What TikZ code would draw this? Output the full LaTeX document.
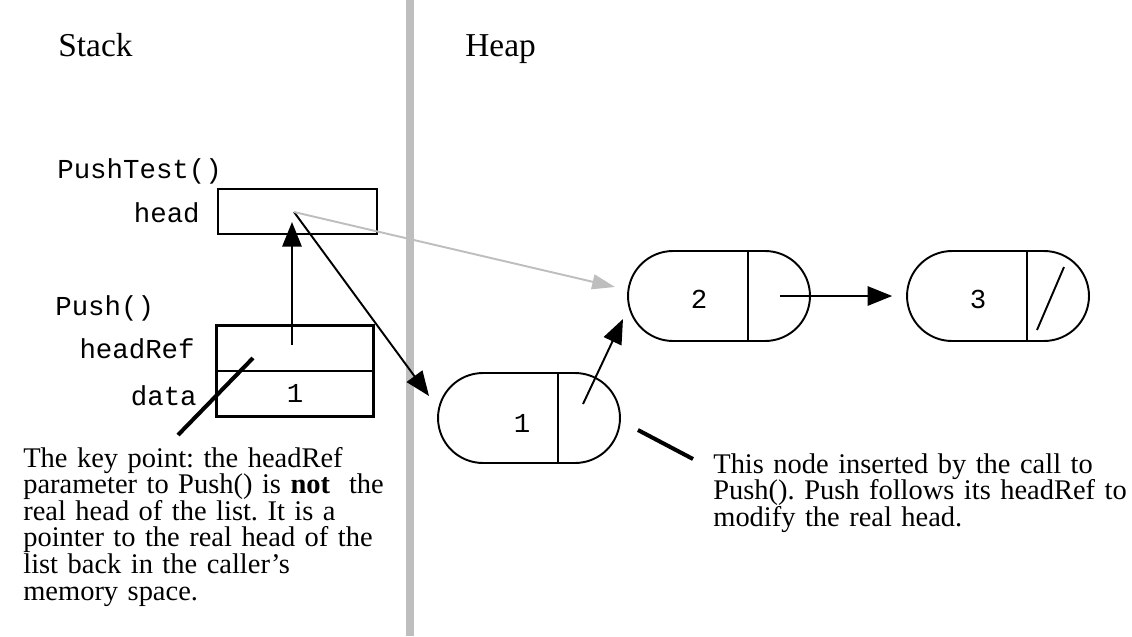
\documentclass[tikz,border=0pt]{standalone}
\usepackage{fontspec}
\setmainfont{Liberation Serif}
\setmonofont{Liberation Mono}
\usetikzlibrary{arrows.meta,shapes.misc,calc}

\definecolor{divgray}{RGB}{190,190,190}

\tikzset{
  codetext/.style={font=\ttfamily\fontsize{15.6}{18}\selectfont, inner sep=0pt},
  notetext/.style={font=\fontsize{16.2}{15.1}\selectfont\frenchspacing, align=left, inner sep=0pt},
  areatitle/.style={font=\fontsize{19}{22}\selectfont, inner sep=0pt},
  framebox/.style={draw, line width=1.1pt, minimum width=3.12cm, minimum height=0.9cm, inner sep=0pt},
  listcell/.style={draw, rounded rectangle, line width=1.1pt, minimum width=3.64cm, minimum height=1.8cm, inner sep=0pt},
  ptr/.style={-{Triangle[length=14pt,width=11pt]}, line width=1.1pt},
  leader/.style={line width=2.3pt},
}

\begin{document}
\begin{tikzpicture}[x=0.02cm, y=-0.02cm]
    \useasboundingbox (0,0) rectangle (1132,636);

    %% divider
    \draw[divgray, line width=5.1pt] (410,0) -- (410,636);
    \node[areatitle, anchor=base west] (stacktitle) at (58,56) {Stack};
    \node[areatitle, anchor=base west] (heaptitle)  at (465,56) {Heap};

    %% PushTest()
    \node[codetext, anchor=base west] (pushtest) at (57,178) {PushTest()};
    \node[framebox, minimum width=3.18cm] (headbox) at (297.5,211.5) {};
    \node[codetext, anchor=base east] (headlbl) at (200,222) {head};

    %% Push()
    \node[codetext, anchor=base west] (push) at (55,315) {Push()};
    \node[framebox] (refbox)  at (295,348.5) {};
    \node[framebox, codetext] (databox) at (295,393.5) {1};
    \draw[line width=1.1pt] (refbox.north west) rectangle (databox.south east);
    \node[codetext, anchor=base east] (reflbl)  at (195,358) {headRef};
    \node[codetext, anchor=base east] (datalbl) at (197,405) {data};

    %% heap cells
    \node[listcell] (cell1) at (529,418) {};
    \node[listcell] (cell2) at (719,296) {};
    \node[listcell] (cell3) at (998,296) {};
    \foreach \c in {cell1,cell2,cell3}
        \draw[line width=1.1pt] ($(\c.north)+(29,0)$) -- ($(\c.south)+(29,0)$);
    \node[codetext] (val1) at ($(cell1)+(-7,5)$)  {1};
    \node[codetext] (val2) at ($(cell2)+(-20,3)$) {2};
    \node[codetext] (val3) at ($(cell3)+(-20,3)$) {3};
    \draw[line width=1.1pt] ($(cell3)+(66,-29)$) -- ($(cell3)+(39,34)$);

    %% pointers
    \coordinate (headdot)  at (294,212);
    \coordinate (refdot)   at (292,345);
    \coordinate (headtip)  at (292,222);
    \coordinate (cell1in)  at (429,396);
    \coordinate (cell2in)  at (615,287);
    \coordinate (cell1dot) at ($(cell1)+(54,-14)$);
    \coordinate (cell2low) at (623,319);
    \coordinate (cell2dot) at ($(cell2)+(61,0)$);

    \draw[ptr] (refdot) -- (headtip);
    \draw[ptr] (headdot) -- (cell1in);
    \draw[ptr, divgray, -{Triangle[length=13pt,width=8.5pt]}] (headdot) -- (cell2in);
    \draw[ptr] (cell1dot) -- (cell2low);
    \draw[ptr, shorten >=7.9pt] (cell2dot) -- (cell3.west);

    %% notes
    \coordinate (keyend) at (178,435);
    \draw[leader] (253,358) -- (keyend);
    \node[notetext, text width=7.6cm, anchor=north west] (keynote) at (23,447)
        {The key point: the headRef\\
         parameter to Push() is \textbf{not}~ the\\
         real head of the list. It is a\\
         pointer to the real head of the\\
         list back in the caller's\\
         memory space.};

    \coordinate (insend) at (693,459);
    \draw[leader] ($(cell1.east)+(17,12)$) -- (insend);
    \node[notetext, text width=8.4cm, anchor=north west] (insnote) at (713,453)
        {This node inserted by the call to\\
         Push(). Push follows its headRef to\\
         modify the real head.};

\end{tikzpicture}
\end{document}
